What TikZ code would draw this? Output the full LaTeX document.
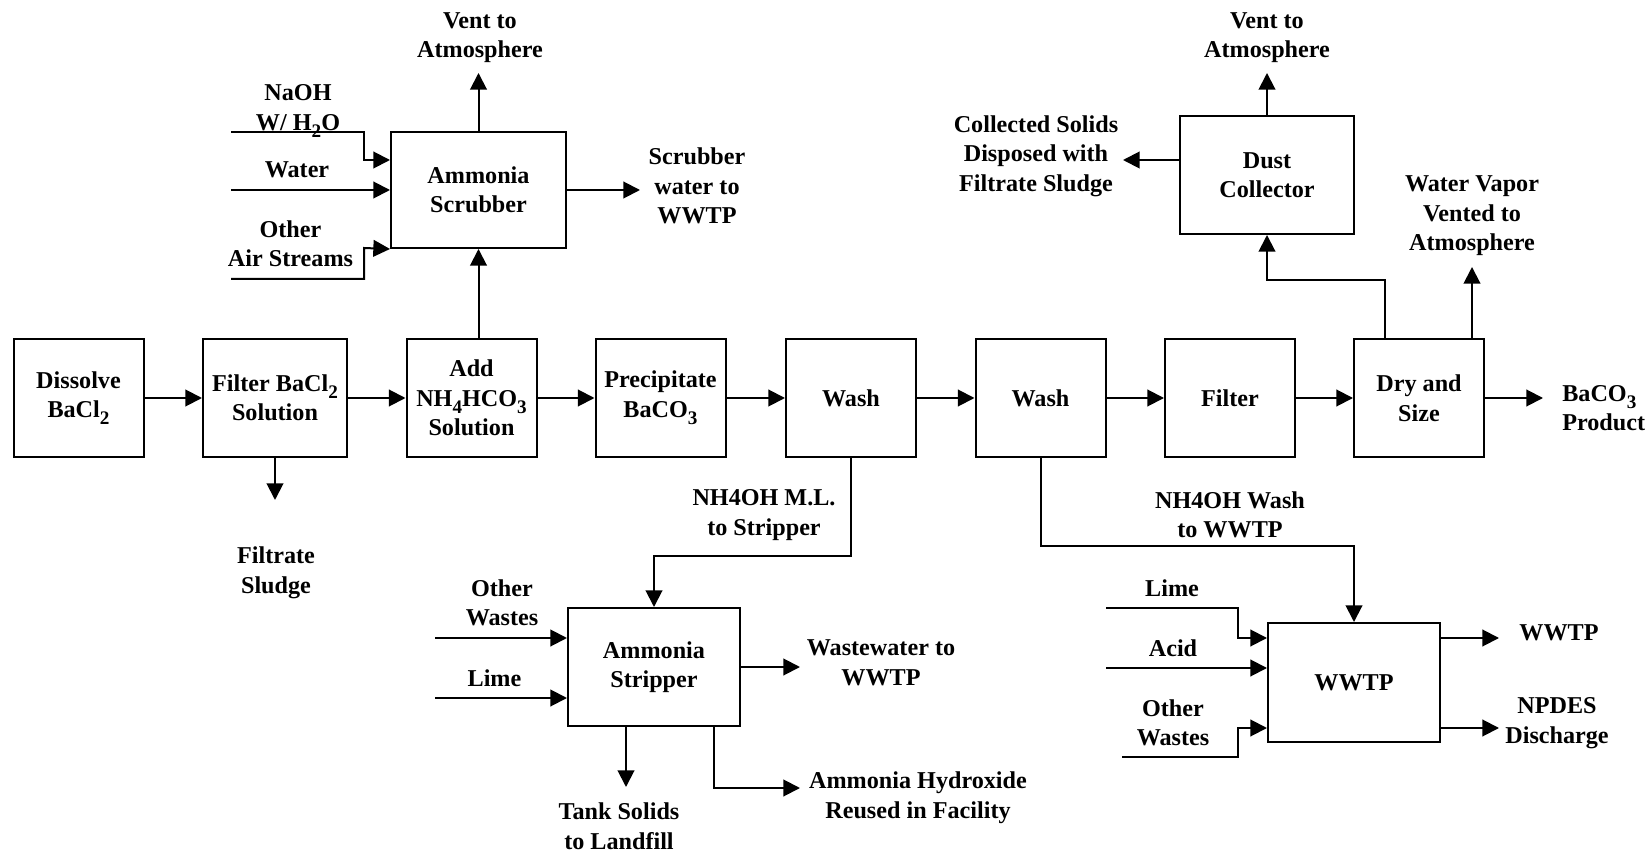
\documentclass[tikz,border=0pt]{standalone}
\usepackage{fontspec}
\setmainfont{Liberation Serif}
\usetikzlibrary{arrows.meta}
\newcommand{\chemsub}[1]{\raisebox{-0.3em}{\fontsize{11.5}{11.5}\selectfont #1}}

\begin{document}
\begin{tikzpicture}[x=0.6pt,y=-0.6pt,
    font=\fontsize{14.5}{17.7}\selectfont\bfseries,
    unit/.style={draw, line width=1.2pt, inner sep=0pt, align=center,
      minimum width=78pt, minimum height=70.8pt},
    lbl/.style={inner sep=0pt, align=center},
    flow/.style={line width=1.2pt, -{Triangle[length=10pt,width=10pt]}}]
  \useasboundingbox (0,0) rectangle (1652,853);

  % main line
  \node[unit] (dis) at (78.5,398) {Dissolve\\BaCl\chemsub{2}};
  \node[unit, minimum width=86.4pt] (filt) at (275,398) {Filter BaCl\chemsub{2}\\Solution};
  \node[unit] (add) at (471.5,398) {Add\\NH\chemsub{4}HCO\chemsub{3}\\Solution};
  \node[unit] (prec) at (660.5,398) {Precipitate\\BaCO\chemsub{3}};
  \node[unit] (washA) at (851,398) {Wash};
  \node[unit] (washB) at (1040.5,398) {Wash};
  \node[unit] (filtr) at (1230,398) {Filter};
  \node[unit] (dry) at (1419,398) {Dry and\\Size};

  % side units
  \node[unit, minimum width=105pt, minimum height=69.6pt] (scrub) at (478.5,190) {Ammonia\\Scrubber};
  \node[unit, minimum width=104.4pt] (dust) at (1267,175) {Dust\\Collector};
  \node[unit, minimum width=103.2pt] (strip) at (654,667) {Ammonia\\Stripper};
  \node[unit, minimum width=103.2pt, minimum height=71.4pt] (wwtp) at (1354,682.5) {WWTP};

  % labels
  \node[lbl] (ventA) at (480,37.5) {Vent to\\Atmosphere};
  \node[lbl] (naohl) at (298,111) {NaOH\\W/ H\chemsub{2}O};
  \node[lbl] (waterl) at (297,170) {Water};
  \node[lbl] (airl) at (290.5,243.5) {Other\\Air Streams};
  \node[lbl] (scrubw) at (697,186) {Scrubber\\water to\\WWTP};
  \node[lbl] (fsl) at (276,573) {Filtrate\\Sludge};
  \node[lbl] (mll) at (764,515) {NH4OH M.L.\\to Stripper};
  \node[lbl] (sowl) at (502,603) {Other\\Wastes};
  \node[lbl] (slimel) at (494.5,678) {Lime};
  \node[lbl] (wwl) at (881,663) {Wastewater to\\WWTP};
  \node[lbl] (tankl) at (619,826) {Tank Solids\\to Landfill};
  \node[lbl] (nhl) at (918,797.5) {Ammonia Hydroxide\\Reused in Facility};
  \node[lbl] (washl) at (1230,515) {NH4OH Wash\\to WWTP};
  \node[lbl] (wlimel) at (1172,588) {Lime};
  \node[lbl] (wacidl) at (1173,648) {Acid};
  \node[lbl] (wotherl) at (1173,723) {Other\\Wastes};
  \node[lbl] (woutl) at (1559,633) {WWTP};
  \node[lbl] (npdesl) at (1557,723) {NPDES\\Discharge};
  \node[lbl, align=left, anchor=west] (prodl) at (1562,408) {BaCO\chemsub{3}\\Product};
  \node[lbl] (ventB) at (1267,37.5) {Vent to\\Atmosphere};
  \node[lbl] (colll) at (1036,156) {Collected Solids\\Disposed with\\Filtrate Sludge};
  \node[lbl] (vapl) at (1472,216) {Water Vapor\\Vented to\\Atmosphere};

  % free ends
  \coordinate (naoh) at (231,132);
  \coordinate (water) at (231,190);
  \coordinate (air) at (231,279);
  \coordinate (ventAtip) at (478.5,73);
  \coordinate (scrubtip) at (640,190);
  \coordinate (fsltip) at (275,500);
  \coordinate (sow) at (435,638);
  \coordinate (slime) at (435,698);
  \coordinate (wwtip) at (800,667);
  \coordinate (tanktip) at (626,787);
  \coordinate (nhtip) at (800,788);
  \coordinate (wlime) at (1106,608);
  \coordinate (wacid) at (1106,668);
  \coordinate (wother) at (1122,757);
  \coordinate (wouttip) at (1499,638);
  \coordinate (npdestip) at (1499,728);
  \coordinate (prodtip) at (1543,398);
  \coordinate (ventBtip) at (1267,73);
  \coordinate (colltip) at (1123,160);
  \coordinate (vaptip) at (1472,267);

  % main flow
  \draw[flow] (dis.east) -- (filt.west);
  \draw[flow] (filt.east) -- (add.west);
  \draw[flow] (add.east) -- (prec.west);
  \draw[flow] (prec.east) -- (washA.west);
  \draw[flow] (washA.east) -- (washB.west);
  \draw[flow] (washB.east) -- (filtr.west);
  \draw[flow] (filtr.east) -- (dry.west);
  \draw[flow] (dry.east) -- (prodtip);

  % scrubber
  \draw[flow] (naoh) -- (364,132) -- (364,160) -- (scrub.west |- 0,160);
  \draw[flow] (water) -- (scrub.west |- water);
  \draw[flow] (air) -- (364,279) -- (364,248) -- (scrub.south west);
  \draw[flow] (scrub.north) -- (ventAtip);
  \draw[flow] (scrub.east) -- (scrubtip);
  \draw[flow] (add.north -| scrub.south) -- (scrub.south);
  \draw[flow] (filt.south) -- (fsltip);

  % stripper
  \draw[flow] (washA.south) -- (851,556) -| (strip.north);
  \draw[flow] (sow) -- (sow -| strip.west);
  \draw[flow] (slime) -- (slime -| strip.west);
  \draw[flow] (strip.east) -- (wwtip);
  \draw[flow] (strip.south -| tanktip) -- (tanktip);
  \draw[flow] (strip.south -| 714,0) |- (nhtip);

  % wastewater treatment
  \draw[flow] (washB.south) -- (1040.5,546) -| (wwtp.north);
  \draw[flow] (wlime) -- (1238,608) -- (1238,638) -- (wwtp.west |- 0,638);
  \draw[flow] (wacid) -- (wacid -| wwtp.west);
  \draw[flow] (wother) -- (1238,757) -- (1238,728) -- (wwtp.west |- 0,728);
  \draw[flow] (wwtp.east |- wouttip) -- (wouttip);
  \draw[flow] (wwtp.east |- npdestip) -- (npdestip);

  % dryer
  \draw[flow] (dry.north -| 1384.5,0) |- (dust.south |- 0,280) -- (dust.south);
  \draw[flow] (dry.north -| vaptip) -- (vaptip);
  \draw[flow] (dust.north) -- (ventBtip);
  \draw[flow] (dust.west |- colltip) -- (colltip);
\end{tikzpicture}
\end{document}
